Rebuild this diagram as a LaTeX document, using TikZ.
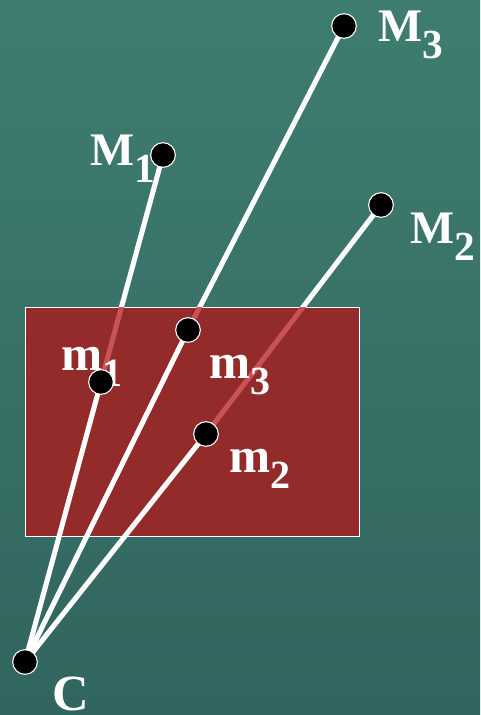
\documentclass[tikz,border=0pt]{standalone}
\usepackage{fontspec}
\setmainfont{Liberation Serif}
\definecolor{bgtop}{RGB}{63,125,112}
\definecolor{bgbot}{RGB}{49,101,95}
\definecolor{plane}{RGB}{147,43,43}
\definecolor{hidden}{RGB}{200,82,85}
\tikzset{
  ray/.style={white, line width=3.8pt},
  hiddenray/.style={hidden, line width=3.8pt},
  dotmark/.style={circle, fill=black, draw=white, line width=0.8pt, minimum size=18.5pt, inner sep=0pt},
  biglabel/.style={white, font=\bfseries, inner sep=0pt, anchor=base west},
}
\newcommand{\lblM}[2]{{\fontsize{35}{35}\selectfont #1\raisebox{-13pt}{\fontsize{31}{31}\selectfont #2}}}
\newcommand{\lblm}[2]{{\fontsize{37}{37}\selectfont #1\raisebox{-12pt}{\fontsize{30}{30}\selectfont #2}}}
\begin{document}
\begin{tikzpicture}[x=0.75pt,y=-0.75pt]
\shade[top color=bgtop, bottom color=bgbot] (0,0) rectangle (480,715);
\useasboundingbox (0,0) rectangle (480,715);
% points
\coordinate (C) at (25,662);
\coordinate (M1) at (163,155);
\coordinate (M2) at (381,205);
\coordinate (M3) at (344,26);
\coordinate (m1) at (101,382);
\coordinate (m2) at (206,434);
\coordinate (m3) at (188,330);
% rays behind the plane
\draw[ray] (m1) -- (M1);
\draw[ray] (m2) -- (M2);
\draw[ray] (m3) -- (M3);
% plane
\node[draw=white, line width=1pt, fill=plane, minimum width=334*0.75pt, minimum height=229*0.75pt, inner sep=0pt, anchor=north west] (plane) at (25,307) {};
\begin{scope}
  \clip (25.7,307.7) rectangle (358.3,535.3);
  \draw[hiddenray] (m1) -- (M1);
  \draw[hiddenray] (m2) -- (M2);
  \draw[hiddenray] (m3) -- (M3);
\end{scope}
% rays in front
\draw[ray] (C) -- (m1);
\draw[ray] (C) -- (m2);
\draw[ray] (C) -- (m3);
% labels
\node[biglabel] (lM1) at (90,165) {\lblM{M}{1}};
\node[biglabel] (lM2) at (410,243) {\lblM{M}{2}};
\node[biglabel] (lM3) at (378,41) {\lblM{M}{3}};
\node[biglabel] (lm1) at (61,370) {\lblm{m}{1}};
\node[biglabel] (lm2) at (229,472) {\lblm{m}{2}};
\node[biglabel] (lm3) at (209,378) {\lblm{m}{3}};
\node[biglabel] (lC) at (52,710) {{\fontsize{38}{38}\selectfont C}};
% dots
\foreach \p in {C,M1,M2,M3,m1,m2,m3} \node[dotmark] at (\p) {};
\end{tikzpicture}
\end{document}
